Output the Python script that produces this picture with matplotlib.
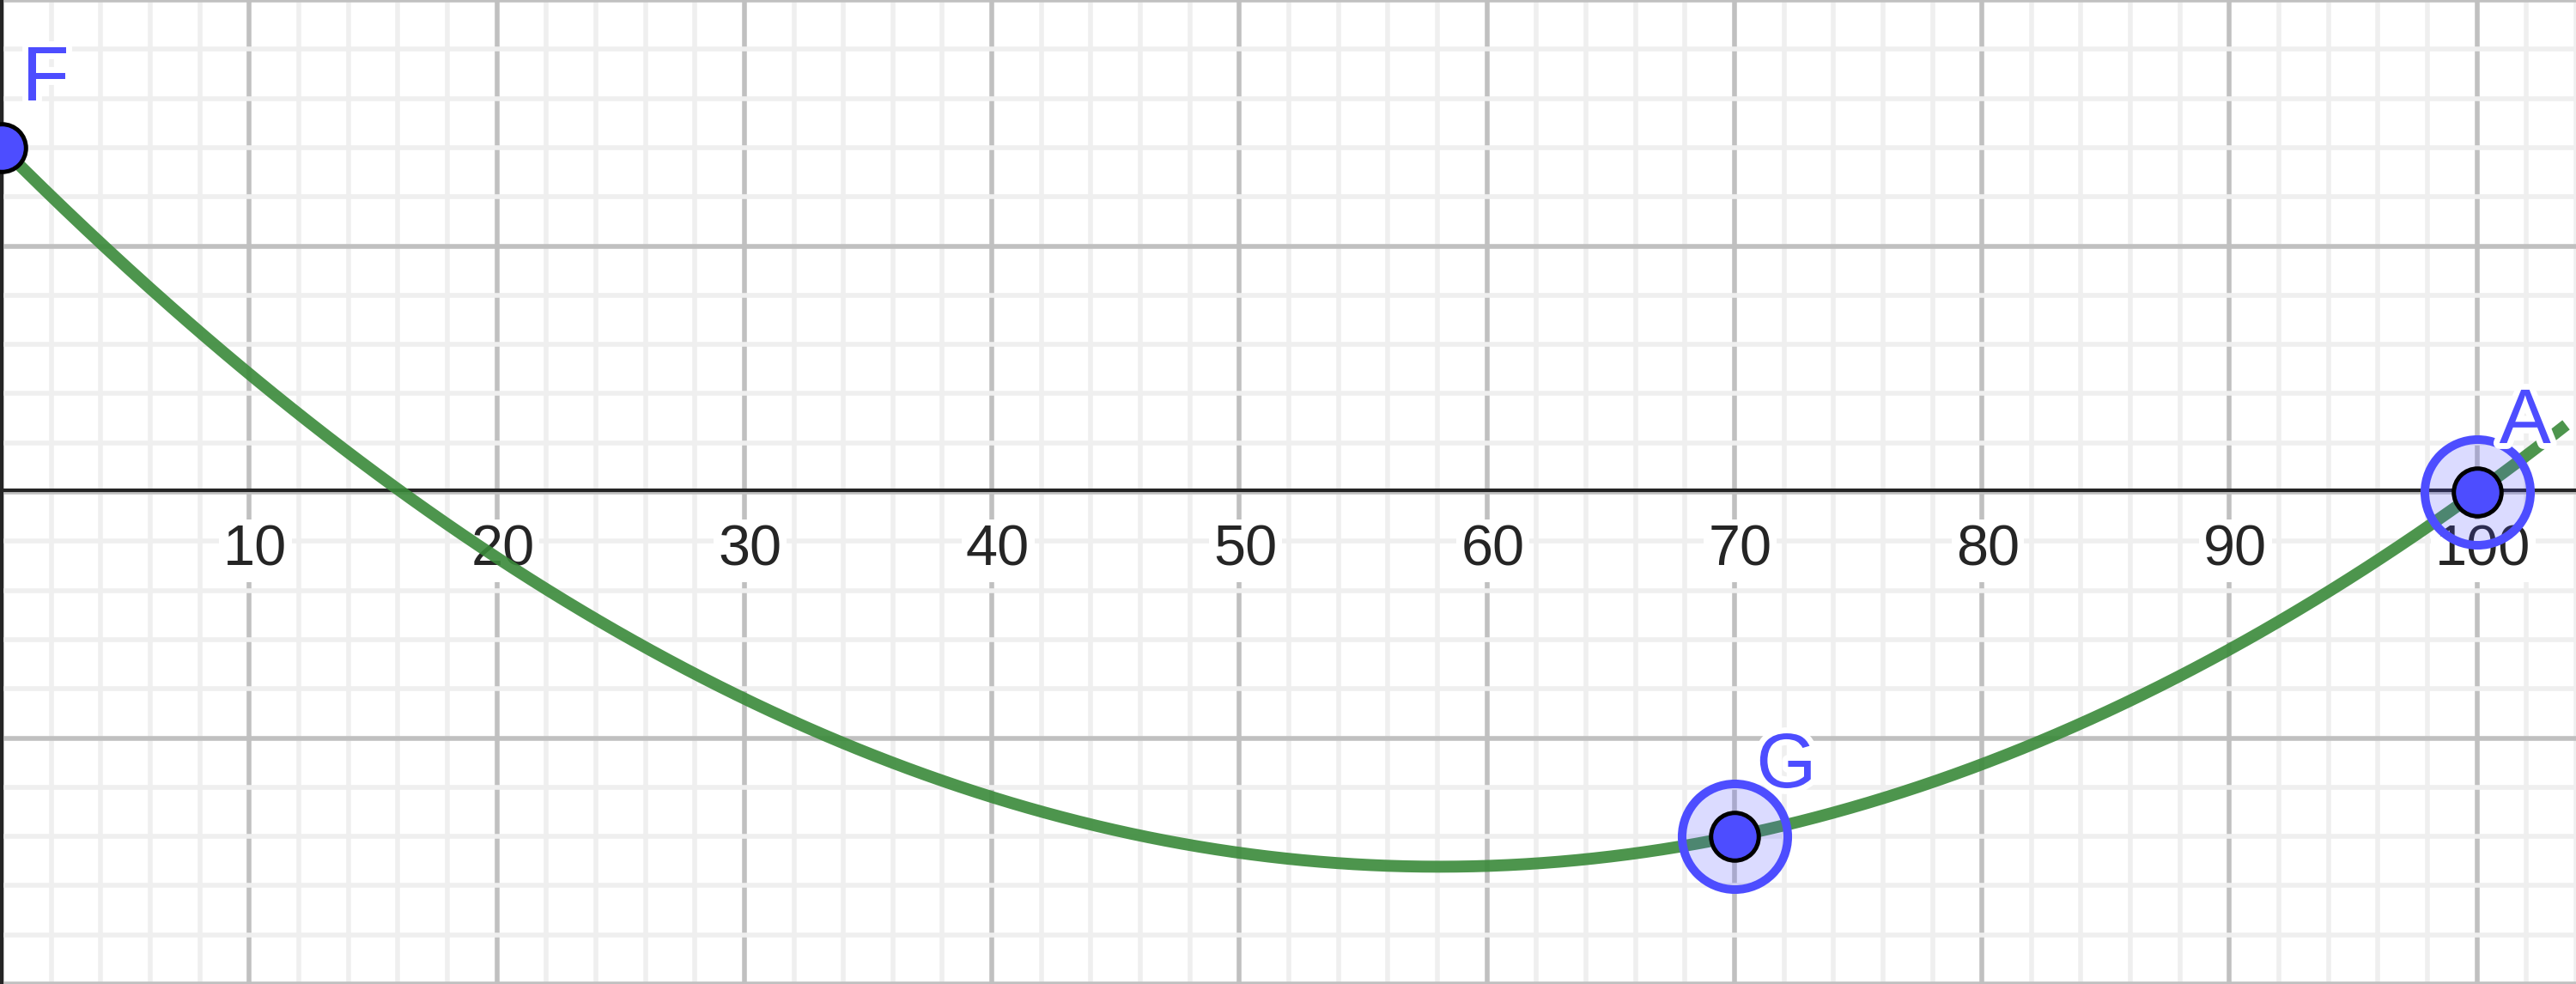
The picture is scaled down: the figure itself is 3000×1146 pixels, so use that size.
import numpy as np
import matplotlib
matplotlib.use("Agg")
import matplotlib.pyplot as plt
import matplotlib.patheffects as pe

# points of the construction (F, G, A), curve is the parabola through them
point_names = ["F", "G", "A"]
point_x = [0, 70, 100]
point_y = [14, -14, 0]
point_selected = [False, True, True]

# label offsets for the point names (data units)
label_dx = [0.82, 0.88, 0.90]
label_dy = [1.92, 1.99, 1.99]

x_tick_values = [10, 20, 30, 40, 50, 60, 70, 80, 90, 100]
x_tick_labels = ["10", "20", "30", "40", "50", "60", "70", "80", "90", "100"]

# view window
xmin, xmax = -0.073, 103.6
ymin, ymax = -19.65, 19.96

BLUE = "#4d4dff"
GREEN = "#3a8a3a"
AXIS = "#252525"

fig = plt.figure(figsize=(30, 11.46), dpi=100)
ax = fig.add_axes([0, 0, 1, 1])
ax.set_xlim(xmin, xmax)
ax.set_ylim(ymin, ymax)

# grid - major every 10, minor every 2
ax.set_xticks(np.arange(0, 110, 10))
ax.set_yticks(np.arange(-20, 30, 10))
ax.set_xticks(np.arange(0, 106, 2), minor=True)
ax.set_yticks(np.arange(-20, 22, 2), minor=True)
ax.grid(which="major", color="#c0c0c0", linewidth=4, zorder=0)
ax.grid(which="minor", color="#efefef", linewidth=4, zorder=0)
ax.tick_params(which="both", length=0, labelbottom=False, labelleft=False)
for s in ax.spines.values():
    s.set_visible(False)
ax.set_axisbelow(True)

# axes lines
ax.axhline(0.07, color=AXIS, linewidth=3, zorder=1)
ax.axvline(0, color=AXIS, linewidth=3, zorder=1)

# x tick labels with white background
for v, lab in zip(x_tick_values, x_tick_labels):
    ax.text(v + 0.24, -2.99, lab, ha="center", va="baseline", fontsize=48,
            family="Liberation Sans", color=AXIS, zorder=2,
            bbox=dict(boxstyle="square,pad=0.08", fc="white", ec="none"))

# the curve
coef = np.polyfit(point_x, point_y, 2)
xs = np.linspace(xmin, xmax, 600)
ax.plot(xs, np.polyval(coef, xs), color=GREEN, alpha=0.9, linewidth=10,
        solid_capstyle="butt", zorder=3)

# points
for name, x, y, sel, dx, dy in zip(point_names, point_x, point_y, point_selected,
                                   label_dx, label_dy):
    if sel:
        ax.plot([x], [y], "o", markersize=88.6, mfc=(0.302, 0.302, 1.0, 0.2),
                mec=BLUE, mew=7.2, zorder=4)
    ax.plot([x], [y], "o", markersize=40, mfc=BLUE, mec="black", mew=3.6,
            zorder=5)
    ax.text(x + dx, y + dy, name, ha="left", va="baseline", fontsize=65,
            family="Liberation Sans", color=BLUE, zorder=6,
            path_effects=[pe.withStroke(linewidth=10, foreground="white")])

fig.savefig("out.png", dpi=100)
